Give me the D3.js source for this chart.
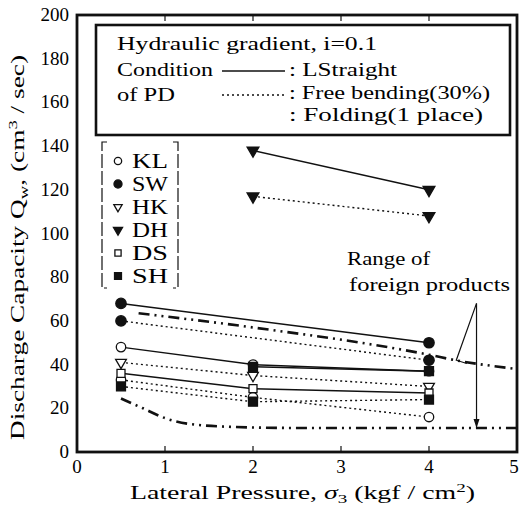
<!DOCTYPE html>
<html lang="en">
<head>
<meta charset="utf-8">
<script src="https://cdn.jsdelivr.net/npm/d3@7"></script>
<style>
  body { margin: 0; background: white; }
</style>
</head>
<body>
<svg id="chart" width="520" height="508" font-family="'Liberation Serif', 'DejaVu Serif', serif"></svg>
<script>
// ---- data ----
var pressures = [0.5, 2, 4]            // lateral pressure, kgf/cm2
var swStraight = [68, null, 50]
var swFree     = [60, null, 42]
var klStraight = [48, 40, 37]
var klFree     = [33, 25, 16]
var hkFree     = [41, 35, 30]
var dsStraight = [36, 29, 27]
var shStraight = [null, 39, 37]
var shFree     = [30, 23, 24]
var dhStraight = [null, 138, 120]
var dhFree     = [null, 117, 108]

// range of foreign products (dash-dot boundaries)
var upperRangeX = [0.7, 2, 4, 4.3, 5]
var upperRangeY = [63.5, 57, 44.5, 42, 38]
var lowerRangeX = [0.5, 0.75, 1, 1.25, 1.75, 2.5, 5]
var lowerRangeY = [24.5, 20, 15.5, 13, 11.5, 11, 11]

var xTicks = [0, 1, 2, 3, 4, 5]
var yTicks = [0, 20, 40, 60, 80, 100, 120, 140, 160, 180, 200]
var products = ["KL", "SW", "HK", "DH", "DS", "SH"]

// annotation pointer ("Range of foreign products")
var pointerX = [4.54, 4.31, 4.43]
var pointerY = [68, 42, 40.5]
var arrowBottom = 11

// ---- setup ----
var svg = d3.select("#chart")
var x = d3.scaleLinear().domain([0, 5]).range([77, 517])
var y = d3.scaleLinear().domain([0, 200]).range([452, 15])

// marker look per product
var markerStyle = {
  KL: {type: d3.symbolCircle, fill: false, size: 70, rot: 0},
  SW: {type: d3.symbolCircle, fill: true, size: 85, rot: 0},
  HK: {type: d3.symbolTriangle, fill: false, size: 50, rot: 180},
  DH: {type: d3.symbolTriangle, fill: true, size: 60, rot: 180},
  DS: {type: d3.symbolSquare, fill: false, size: 64, rot: 0},
  SH: {type: d3.symbolSquare, fill: true, size: 80, rot: 0}
}

var series = [
  {name: "SW", cond: "straight", vals: swStraight},
  {name: "SW", cond: "free", vals: swFree},
  {name: "KL", cond: "straight", vals: klStraight},
  {name: "KL", cond: "free", vals: klFree},
  {name: "HK", cond: "free", vals: hkFree},
  {name: "DS", cond: "straight", vals: dsStraight},
  {name: "SH", cond: "straight", vals: shStraight},
  {name: "SH", cond: "free", vals: shFree},
  {name: "DH", cond: "straight", vals: dhStraight},
  {name: "DH", cond: "free", vals: dhFree}
]

var line = d3.line()
  .defined(function(d){ return d.v != null })
  .x(function(d){ return x(d.p) })
  .y(function(d){ return y(d.v) })

// ---- data lines ----
series.forEach(function(s){
  var pts = pressures.map(function(p, i){ return {p: p, v: s.vals[i]} })
    .filter(function(d){ return d.v != null })
  svg.append("path")
    .attr("d", line(pts))
    .attr("fill", "none")
    .attr("stroke", "#111")
    .attr("stroke-width", s.cond == "straight" ? 1.5 : 1.4)
    .attr("stroke-dasharray", s.cond == "straight" ? null : "2,3")
})

// range boundaries (dash-dot-dot)
var rangeLine = d3.line().curve(d3.curveMonotoneX)
  .x(function(d){ return x(d[0]) }).y(function(d){ return y(d[1]) })
;[[upperRangeX, upperRangeY], [lowerRangeX, lowerRangeY]].forEach(function(r){
  svg.append("path")
    .attr("d", rangeLine(r[0].map(function(v, i){ return [v, r[1][i]] })))
    .attr("fill", "none")
    .attr("stroke", "#111")
    .attr("stroke-width", 2.6)
    .attr("stroke-dasharray", "11,5,2,5,2,5")
})

// ---- markers: open first, filled on top ----
function drawMarker(g, name, cx, cy, scale){
  var st = markerStyle[name]
  g.append("path")
    .attr("d", d3.symbol().type(st.type).size(st.size * scale)())
    .attr("transform", "translate(" + cx + "," + cy + ") rotate(" + st.rot + ")")
    .attr("fill", st.fill ? "#111" : "white")
    .attr("stroke", "#111")
    .attr("stroke-width", 1.3)
}
var markG = svg.append("g")
;[false, true].forEach(function(filled){
  series.forEach(function(s){
    if (markerStyle[s.name].fill != filled) return
    pressures.forEach(function(p, i){
      if (s.vals[i] == null) return
      drawMarker(markG, s.name, x(p), y(s.vals[i]), 1)
    })
  })
})

// ---- frame, ticks, labels ----
svg.append("rect")
  .attr("x", x(0)).attr("y", y(200))
  .attr("width", x(5) - x(0)).attr("height", y(0) - y(200))
  .attr("fill", "none").attr("stroke", "#111").attr("stroke-width", 2.8)

xTicks.slice(1, -1).forEach(function(t){
  svg.append("line").attr("x1", x(t)).attr("x2", x(t))
    .attr("y1", y(0)).attr("y2", y(0) - 6).attr("stroke", "#111").attr("stroke-width", 1.2)
  svg.append("line").attr("x1", x(t)).attr("x2", x(t))
    .attr("y1", y(200)).attr("y2", y(200) + 6).attr("stroke", "#111").attr("stroke-width", 1.2)
})

svg.selectAll(".xlab").data(xTicks).enter().append("text")
  .attr("x", function(d){ return d == 5 ? x(d) - 3 : x(d) })
  .attr("y", y(0) + 21)
  .attr("text-anchor", "middle")
  .attr("font-size", 19)
  .text(function(d){ return d })

svg.selectAll(".ylab").data(yTicks).enter().append("text")
  .attr("x", 69)
  .attr("y", function(d){ return y(d) + 6 })
  .attr("text-anchor", "end")
  .attr("font-size", 19)
  .text(function(d){ return d })

// axis titles
var xt = svg.append("text").attr("x", 130).attr("y", 499)
  .attr("font-size", 19).attr("textLength", 345).attr("lengthAdjust", "spacingAndGlyphs")
xt.append("tspan").text("Lateral Pressure, ")
xt.append("tspan").attr("font-style", "italic").text("σ")
xt.append("tspan").attr("font-size", 13).attr("dy", 4).text("3")
xt.append("tspan").attr("dy", -4).text(" (kgf / cm")
xt.append("tspan").attr("font-size", 13).attr("dy", -7).text("2")
xt.append("tspan").attr("dy", 7).text(")")

var yt = svg.append("text")
  .attr("transform", "translate(24,440) rotate(-90)")
  .attr("font-size", 19).attr("textLength", 385).attr("lengthAdjust", "spacingAndGlyphs")
yt.append("tspan").text("Discharge Capacity Q")
yt.append("tspan").attr("font-size", 13).attr("dy", 4).text("w")
yt.append("tspan").attr("dy", -4).text(", (cm")
yt.append("tspan").attr("font-size", 13).attr("dy", -7).text("3")
yt.append("tspan").attr("dy", 7).text(" / sec)")

// ---- condition legend box ----
svg.append("rect").attr("x", 96).attr("y", 25).attr("width", 414).attr("height", 110)
  .attr("fill", "white").attr("stroke", "#111").attr("stroke-width", 2.6)

var legRows = [
  {label: "Hydraulic gradient, i=0.1", x: 117, y: 50, w: 260},
  {label: "Condition", x: 117, y: 76, w: 96},
  {label: "of PD", x: 117, y: 101, w: 58},
  {label: ": LStraight", x: 289, y: 76, w: 108},
  {label: ": Free bending(30%)", x: 289, y: 99, w: 201},
  {label: ": Folding(1 place)", x: 289, y: 121, w: 194}
]
svg.selectAll(".leg").data(legRows).enter().append("text")
  .attr("x", function(d){ return d.x }).attr("y", function(d){ return d.y })
  .attr("font-size", 19)
  .attr("textLength", function(d){ return d.w })
  .attr("lengthAdjust", "spacingAndGlyphs")
  .text(function(d){ return d.label })

svg.append("line").attr("x1", 222).attr("x2", 285).attr("y1", 71).attr("y2", 71)
  .attr("stroke", "#111").attr("stroke-width", 1.4)
svg.append("line").attr("x1", 222).attr("x2", 287).attr("y1", 95).attr("y2", 95)
  .attr("stroke", "#111").attr("stroke-width", 1.3).attr("stroke-dasharray", "2,3")

// ---- product legend (bracketed) ----
var brk = svg.append("g").attr("stroke", "#111").attr("stroke-width", 1.2).attr("fill", "none")
brk.append("path").attr("d", "M107,142 H102 V288 H107").attr("stroke-dasharray", "14,3")
brk.append("path").attr("d", "M173,142 H178 V288 H173").attr("stroke-dasharray", "14,3")

var legG = svg.append("g")
products.forEach(function(p, i){
  var cy = 161 + i * 23
  drawMarker(legG, p, 118, cy, 0.6)
  legG.append("text").attr("x", 132).attr("y", cy + 7).attr("font-size", 20)
    .attr("textLength", 36).attr("lengthAdjust", "spacingAndGlyphs").text(p)
})

// ---- annotation ----
svg.append("text").attr("x", 347).attr("y", 265)
  .attr("font-size", 19).attr("textLength", 83).attr("lengthAdjust", "spacingAndGlyphs")
  .text("Range of")
svg.append("text").attr("x", 349).attr("y", 291)
  .attr("font-size", 19).attr("textLength", 161).attr("lengthAdjust", "spacingAndGlyphs")
  .text("foreign products")

svg.append("path")
  .attr("d", d3.line().x(function(d){ return x(d[0]) }).y(function(d){ return y(d[1]) })(
    pointerX.map(function(v, i){ return [v, pointerY[i]] })))
  .attr("fill", "none").attr("stroke", "#111").attr("stroke-width", 1.2)
svg.append("line")
  .attr("x1", x(pointerX[0])).attr("x2", x(pointerX[0]))
  .attr("y1", y(pointerY[0])).attr("y2", y(arrowBottom))
  .attr("stroke", "#111").attr("stroke-width", 1.2)
svg.append("path")
  .attr("d", "M" + (x(pointerX[0]) - 3) + "," + (y(arrowBottom) - 9) +
             " L" + x(pointerX[0]) + "," + y(arrowBottom) +
             " L" + (x(pointerX[0]) + 3) + "," + (y(arrowBottom) - 9) + " Z")
  .attr("fill", "#111")
</script>
</body>
</html>
